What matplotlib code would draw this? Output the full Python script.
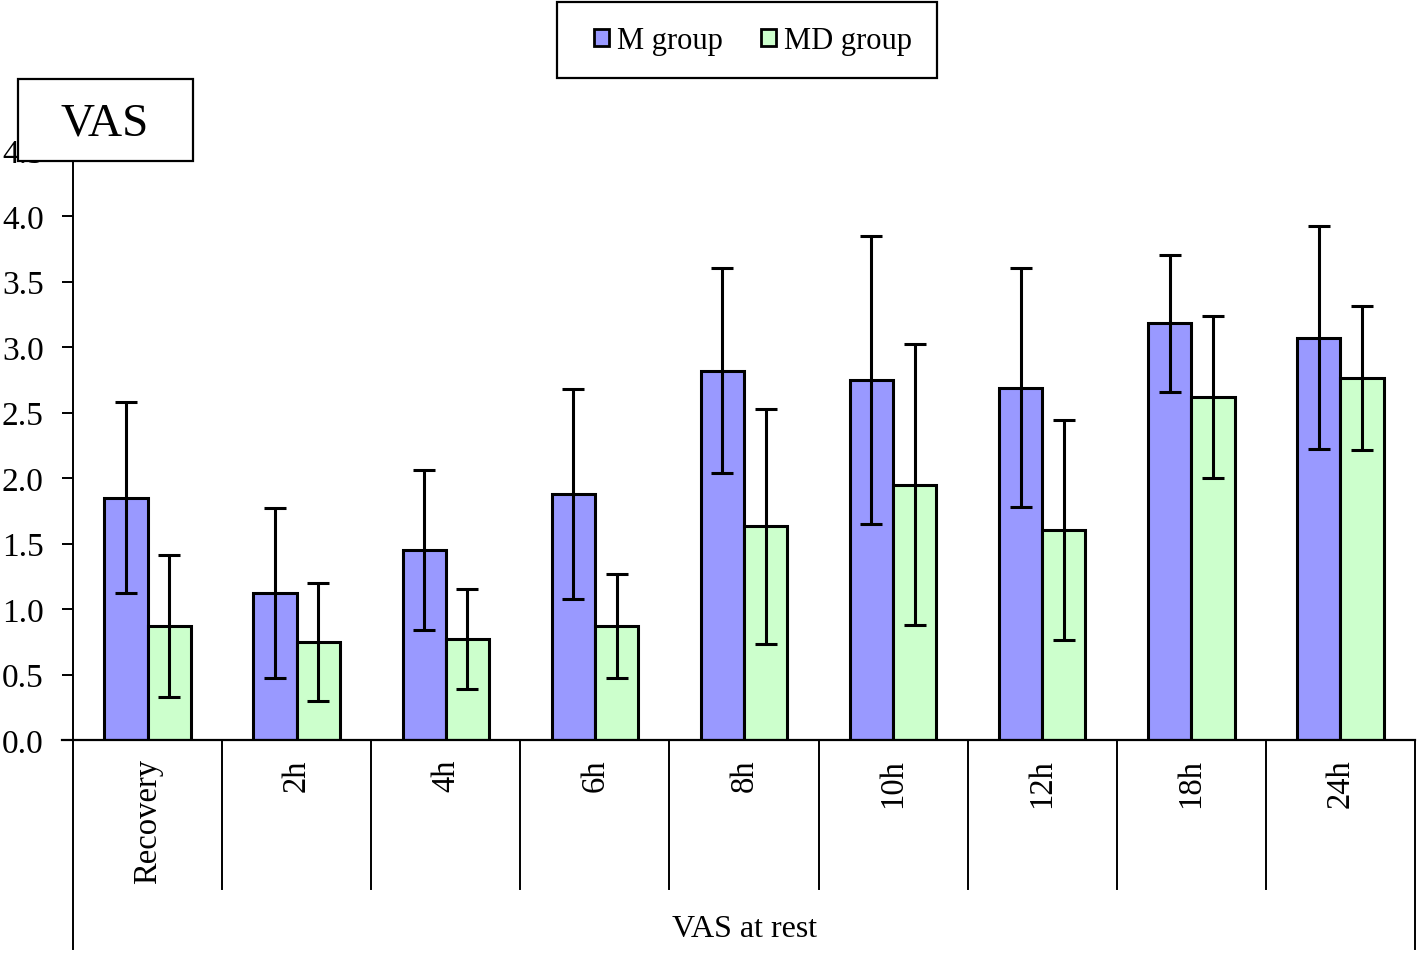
import matplotlib
matplotlib.use("Agg")
import matplotlib.pyplot as plt
from matplotlib.patches import Patch, Rectangle
from matplotlib.lines import Line2D
import numpy as np

plt.rcParams['font.family'] = ['Liberation Serif', 'DejaVu Serif']

categories = ["Recovery", "2h", "4h", "6h", "8h", "10h", "12h", "18h", "24h"]
m_mean = [1.85, 1.12, 1.45, 1.88, 2.82, 2.75, 2.69, 3.18, 3.07]
m_sd = [0.73, 0.65, 0.61, 0.80, 0.78, 1.10, 0.91, 0.52, 0.85]
md_mean = [0.87, 0.75, 0.77, 0.87, 1.63, 1.95, 1.60, 2.62, 2.76]
md_sd = [0.54, 0.45, 0.38, 0.40, 0.90, 1.07, 0.84, 0.62, 0.55]
yticks = [0.0, 0.5, 1.0, 1.5, 2.0, 2.5, 3.0, 3.5, 4.0, 4.5]

W, H = 1418, 954
fig = plt.figure(figsize=(W / 100, H / 100), dpi=100)
left, right = 73 / W, 1415 / W
bottom, top = 1 - 741 / H, 1 - 151.5 / H
ax = fig.add_axes([left, bottom, right - left, top - bottom])

x = np.arange(len(categories))
bw = 0.29
c_m = "#9999FF"
c_md = "#CCFFCC"
ekw = dict(ecolor="black", elinewidth=2.2, capthick=2.2, capsize=8)
ax.bar(x - bw / 2, m_mean, bw, color=c_m, edgecolor="black", linewidth=2.2,
       yerr=m_sd, error_kw=ekw, zorder=2)
ax.bar(x + bw / 2, md_mean, bw, color=c_md, edgecolor="black", linewidth=2.2,
       yerr=md_sd, error_kw=ekw, zorder=2)

ax.set_xlim(-0.5, len(categories) - 0.5)
ax.set_ylim(0, 4.5)
ax.set_yticks(yticks)
ax.set_yticklabels([f"{v:.1f}" for v in yticks], fontsize=24)
ax.tick_params(axis='y', length=8, width=1.4, direction='out', pad=13)
ax.set_xticks([])
for s in ["top", "right", "bottom"]:
    ax.spines[s].set_visible(False)
ax.spines["left"].set_linewidth(1.4)
ax.axhline(0, color="black", lw=1.6, zorder=3, xmin=-0.008, clip_on=False)

# Category labels and dividers below axis
ax_h_px = 741 - 151.5
for i, c in enumerate(categories):
    ax.text(i, -18 / ax_h_px, c, rotation=90, ha="center", va="top", fontsize=23.5,
            transform=ax.get_xaxis_transform())
for i in range(1, len(categories)):
    ax.add_line(Line2D([i - 0.5, i - 0.5], [0, -149 / ax_h_px], color="black", lw=1.4,
                       transform=ax.get_xaxis_transform(), clip_on=False))
for xx in [-0.5, len(categories) - 0.5]:
    ax.add_line(Line2D([xx, xx], [0, -209 / ax_h_px], color="black", lw=1.4,
                       transform=ax.get_xaxis_transform(), clip_on=False))
fig.text(745 / W, 1 - 930 / H, "VAS at rest", ha="center", va="center", fontsize=23)

# VAS box
fig.patches.append(Rectangle((18 / W, 1 - 162 / H), 175 / W, 82 / H, transform=fig.transFigure,
                             facecolor="white", edgecolor="black", lw=1.6, zorder=5))
fig.text(105 / W, 1 - 124 / H, "VAS", ha="center", va="center", fontsize=34, zorder=6)

# Legend frame and legend
fig.patches.append(Rectangle((557 / W, 1 - 79 / H), 380 / W, 76 / H, transform=fig.transFigure,
                             facecolor="white", edgecolor="black", lw=1.6, zorder=1))
handles = [Patch(facecolor=c_m, edgecolor="black", lw=2.0, label="M group"),
           Patch(facecolor=c_md, edgecolor="black", lw=2.0, label="MD group")]
leg = fig.legend(handles=handles, loc="center", bbox_to_anchor=(753 / W, 1 - 42 / H),
                 ncol=2, fontsize=22, frameon=False, handlelength=0.5,
                 handleheight=0.5, handletextpad=0.25, columnspacing=1.25,
                 borderpad=0, borderaxespad=0)

fig.savefig("out.png", dpi=100, facecolor="white")
